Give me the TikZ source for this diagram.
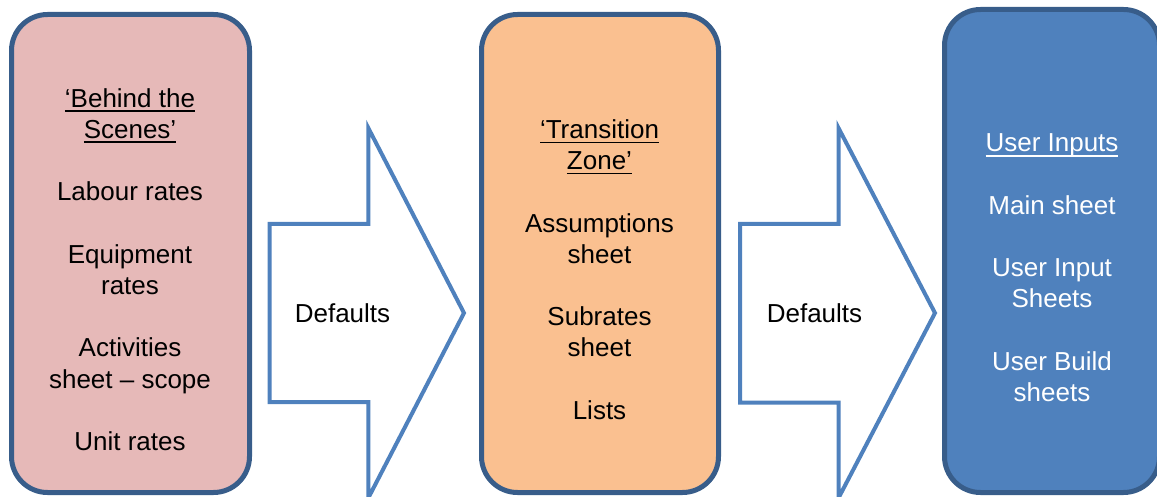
\documentclass[tikz,border=0pt]{standalone}
\usepackage{fontspec}
\setmainfont{Liberation Sans}
\newsavebox{\myulbox}
\newcommand\myul[1]{\sbox{\myulbox}{#1}\rlap{\rule[-4.6pt]{\wd\myulbox}{1.6pt}}\usebox{\myulbox}}
\definecolor{pinkfill}{HTML}{E6B9B8}
\definecolor{orangefill}{HTML}{FAC090}
\definecolor{bluefill}{HTML}{4F81BD}
\definecolor{boxline}{HTML}{385D8A}
\definecolor{arrowline}{HTML}{4F81BD}
\tikzset{
  zonebox/.style={draw=boxline, line width=5pt, rounded corners=36pt, inner sep=0pt},
  zonetext/.style={align=center, inner sep=0pt, anchor=north, font=\fontsize{26}{31.2}\selectfont},
  bigarrow/.style={draw=arrowline, fill=white, line width=4pt, line join=miter},
  deftext/.style={inner sep=0pt, anchor=base, font=\fontsize{26}{31.2}\selectfont}
}
\begin{document}
\begin{tikzpicture}[x=1pt,y=-1pt]
\useasboundingbox (0,0) rectangle (1157,497);
% boxes
\node[zonebox, fill=pinkfill, minimum width=238pt, minimum height=478pt] (pinkbox) at (130.5,253.5) {};
\node[zonebox, fill=orangefill, minimum width=237pt, minimum height=478pt] (orangebox) at (600,253.5) {};
\node[zonebox, fill=bluefill, minimum width=215pt, minimum height=483pt] (bluebox) at (1052,251) {};
% arrows
\draw[bigarrow] (269.5,224) -- (368.3,224) -- (368.3,128) -- (464,313) -- (368.3,498) -- (368.3,402) -- (269.5,402) -- cycle;
\draw[bigarrow] (740,224) -- (838.5,224) -- (838.5,128) -- (935,313) -- (838.5,498) -- (838.5,402.5) -- (740,402.5) -- cycle;
\node[deftext] (def1) at (342.5,322) {Defaults};
\node[deftext] (def2) at (814.5,322) {Defaults};
% texts
\node[zonetext] (pinktext) at (130,107-21.84) {\strut\myul{‘Behind the}\\ \myul{Scenes’}\\[31.2pt] Labour rates\\[31.2pt] Equipment\\ rates\\[31.2pt] Activities\\ sheet – scope\\[31.2pt] Unit rates};
\node[zonetext] (orangetext) at (599.5,138.3-21.84) {\strut\myul{‘Transition}\\ \myul{Zone’}\\[31.2pt] Assumptions\\ sheet\\[31.2pt] Subrates\\ sheet\\[31.2pt] Lists};
\node[zonetext, text=white] (bluetext) at (1052,151.7-21.84) {\strut\myul{User Inputs}\\[31.2pt] Main sheet\\[31.2pt] User Input\\ Sheets\\[31.2pt] User Build\\ sheets};
\end{tikzpicture}
\end{document}
